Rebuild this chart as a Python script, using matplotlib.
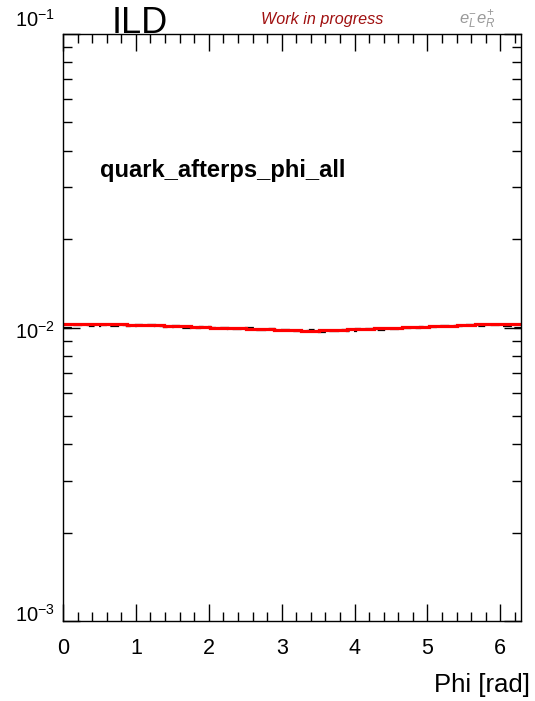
import numpy as np
import matplotlib
matplotlib.use("Agg")
import matplotlib.pyplot as plt
from matplotlib.ticker import FixedLocator, LogLocator, NullFormatter, MultipleLocator
from matplotlib.transforms import ScaledTranslation

plt.rcParams['font.family'] = ['Liberation Sans', 'DejaVu Sans']
plt.rcParams['mathtext.fontset'] = 'custom'
plt.rcParams['mathtext.rm'] = 'Liberation Sans'
plt.rcParams['mathtext.it'] = 'Liberation Sans:italic'
plt.rcParams['mathtext.bf'] = 'Liberation Sans:bold'

# Normalised phi distribution of quarks after parton shower, 50 bins over [0, 2pi]
n_bins = 50
phi_min, phi_max = 0.0, 2 * np.pi

reco_red = [0.01030, 0.01030, 0.01029, 0.01028, 0.01027, 0.01026, 0.01024, 0.01022, 0.01020, 0.01020,
            0.01017, 0.01014, 0.01012, 0.01010, 0.01006, 0.01003, 0.01000, 0.00998, 0.00995, 0.00993,
            0.00990, 0.00988, 0.00985, 0.00982, 0.00980, 0.00978, 0.00975, 0.00976, 0.00977, 0.00980,
            0.00983, 0.00986, 0.00988, 0.00990, 0.00993, 0.00996, 0.00998, 0.01001, 0.01004, 0.01007,
            0.01010, 0.01012, 0.01015, 0.01018, 0.01021, 0.01024, 0.01027, 0.01029, 0.01030, 0.01030]

gen_black = [0.01000, 0.01018, 0.01020, 0.01012, 0.01022, 0.01015, 0.01018, 0.01010, 0.01022, 0.01016,
             0.01008, 0.01005, 0.01010, 0.01000, 0.00996, 0.01006, 0.00993, 0.00998, 0.00985, 0.00990,
             0.00995, 0.00980, 0.00986, 0.00978, 0.00984, 0.00975, 0.00970, 0.00978, 0.00968, 0.00974,
             0.00982, 0.00976, 0.00985, 0.00990, 0.00983, 0.00992, 0.00985, 0.01000, 0.00996, 0.01005,
             0.01002, 0.01010, 0.01008, 0.01015, 0.01020, 0.01012, 0.01022, 0.01018, 0.01010, 0.01000]

x_ticks = [0, 1, 2, 3, 4, 5, 6]
y_ticks = [1e-3, 1e-2, 1e-1]
y_tick_labels = [r'$10^{-3}$', r'$10^{-2}$', r'$10^{-1}$']

edges = np.linspace(phi_min, phi_max, n_bins + 1)

fig = plt.figure(figsize=(5.35, 7.01), dpi=100)
ax = fig.add_axes([63 / 535, 1 - 621 / 701, (521 - 63) / 535, (621 - 34) / 701])

ax.stairs(gen_black, edges, color='black', lw=1.6, linestyle=(0, (4, 2)), baseline=None)
ax.stairs(reco_red, edges, color='#ff0000', lw=2.3, baseline=None)

ax.set_yscale('log')
ax.set_xlim(phi_min, phi_max)
ax.set_ylim(1e-3, 1e-1)

ax.xaxis.set_major_locator(FixedLocator(x_ticks))
ax.xaxis.set_minor_locator(MultipleLocator(0.2))
ax.set_xticklabels([str(t) for t in x_ticks])
ax.yaxis.set_major_locator(FixedLocator(y_ticks))
ax.yaxis.set_minor_locator(LogLocator(base=10, subs=np.arange(2, 10)))
ax.yaxis.set_minor_formatter(NullFormatter())
ax.set_yticklabels(y_tick_labels)

ax.tick_params(which='both', direction='in', top=True, right=True, width=1.0)
ax.tick_params(axis='x', which='major', length=12.5, pad=12, labelsize=15.5)
ax.tick_params(axis='x', which='minor', length=6.5)
ax.tick_params(axis='y', which='major', length=12.5, pad=6, labelsize=14.5)
ax.tick_params(axis='y', which='minor', length=6.5)
for s in ax.spines.values():
    s.set_linewidth(1.0)

# shift the outer decade labels as the ROOT canvas does
labels = ax.get_yticklabels()
shifts = [8, -2, 16]
for lab, dy in zip(labels, shifts):
    lab.set_transform(lab.get_transform() + ScaledTranslation(0, dy / 100, fig.dpi_scale_trans))

fig.text(530 / 535, 1 - 692 / 701, 'Phi [rad]', ha='right', va='baseline', fontsize=18.5)

fig.text(140 / 535, 1 - 33 / 701, 'ILD', ha='center', va='baseline', fontsize=26)
fig.text(322 / 535, 1 - 24 / 701, 'Work in progress', ha='center', va='baseline',
         fontsize=11.6, style='italic', color='#a01010')
fig.text(477 / 535, 1 - 24 / 701, r'$e^{-}_{L}e^{+}_{R}$', ha='center', va='baseline',
         fontsize=12, color='#999999', style='italic')

ax.text(100 / 535, 1 - 177 / 701, 'quark_afterps_phi_all', transform=fig.transFigure,
        ha='left', va='baseline', fontsize=17.1, fontweight='bold')

fig.savefig('out.png', dpi=100)
